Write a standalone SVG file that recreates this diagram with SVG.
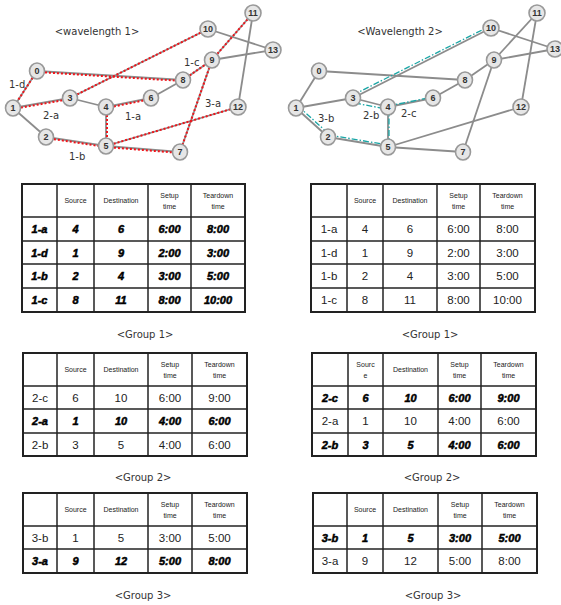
<svg xmlns="http://www.w3.org/2000/svg" width="561" height="605" viewBox="0 0 561 605">
<style>
.e{stroke:#8c8c8c;stroke-width:1.8;fill:none}
.r{stroke:#f0141a;stroke-width:2;stroke-dasharray:2 2;fill:none}
.t{stroke:#1aa6a6;stroke-width:1.3;stroke-dasharray:6 2 1.5 2;fill:none}
.n ellipse{fill:#e6e6e6;stroke:#999;stroke-width:1.6}
.n text{font-family:"Liberation Sans",Arial,sans-serif;font-size:9px;font-weight:bold;fill:#333;text-anchor:middle}
.lb{font-family:"DejaVu Sans","Liberation Sans",sans-serif;font-size:10px;fill:#333}
.cap{font-family:"DejaVu Sans","Liberation Sans",sans-serif;font-size:10px;fill:#333;text-anchor:middle}
.tb rect{fill:#fff;stroke:#222;stroke-width:2}
.tb line{stroke:#222;stroke-width:1.5}
.h{font-family:"Liberation Sans",Arial,sans-serif;font-size:7px;fill:#222;text-anchor:middle}
.d{font-family:"Liberation Sans",Arial,sans-serif;font-size:11.5px;fill:#222;text-anchor:middle}
.b{font-family:"Liberation Sans",Arial,sans-serif;font-size:11px;font-weight:bold;font-style:italic;fill:#000;stroke:#000;stroke-width:0.5;text-anchor:middle}
</style>
<rect width="561" height="605" fill="#fff"/>

<!-- LEFT GRAPH -->
<g id="edges-w1">
<line class="e" x1="37" y1="71" x2="13" y2="108"/>
<line class="e" x1="37" y1="71" x2="183" y2="80"/>
<line class="e" x1="13" y1="108" x2="70" y2="98"/>
<line class="e" x1="13" y1="108" x2="46" y2="137"/>
<line class="e" x1="46" y1="137" x2="106" y2="146"/>
<line class="e" x1="70" y1="98" x2="106" y2="107"/>
<line class="e" x1="70" y1="98" x2="208" y2="29"/>
<line class="e" x1="106" y1="107" x2="151" y2="98"/>
<line class="e" x1="106" y1="107" x2="106" y2="146"/>
<line class="e" x1="151" y1="98" x2="183" y2="80"/>
<line class="e" x1="183" y1="80" x2="212" y2="60"/>
<line class="e" x1="212" y1="60" x2="253" y2="13"/>
<line class="e" x1="212" y1="60" x2="273" y2="50"/>
<line class="e" x1="212" y1="60" x2="180" y2="152"/>
<line class="e" x1="208" y1="29" x2="273" y2="50"/>
<line class="e" x1="253" y1="13" x2="238" y2="107"/>
<line class="e" x1="106" y1="146" x2="180" y2="152"/>
<line class="e" x1="106" y1="146" x2="238" y2="107"/>
<line class="r" x1="37" y1="71" x2="13" y2="108"/>
<line class="r" x1="37" y1="72" x2="183" y2="81"/>
<line class="r" x1="13" y1="109" x2="70" y2="99"/>
<line class="r" x1="46" y1="138" x2="106" y2="147"/>
<line class="r" x1="70" y1="98" x2="208" y2="29"/>
<line class="r" x1="106" y1="108" x2="151" y2="99"/>
<line class="r" x1="107" y1="107" x2="107" y2="146"/>
<line class="r" x1="183" y1="80" x2="212" y2="60"/>
<line class="r" x1="212" y1="60" x2="253" y2="13"/>
<line class="r" x1="212" y1="60" x2="180" y2="152"/>
<line class="r" x1="106" y1="147" x2="180" y2="153"/>
<line class="r" x1="106" y1="146" x2="238" y2="107"/>
</g>
<g id="nodes-w1" class="n">
<g id="w1-n0"><ellipse cx="37" cy="71" rx="7.5" ry="8"/><text x="37" y="74">0</text></g>
<g id="w1-n1"><ellipse cx="13" cy="108" rx="7.5" ry="8"/><text x="13" y="111">1</text></g>
<g id="w1-n2"><ellipse cx="46" cy="137" rx="7.5" ry="8"/><text x="46" y="140">2</text></g>
<g id="w1-n3"><ellipse cx="70" cy="98" rx="7.5" ry="8"/><text x="70" y="101">3</text></g>
<g id="w1-n4"><ellipse cx="106" cy="107" rx="7.5" ry="8"/><text x="106" y="110">4</text></g>
<g id="w1-n5"><ellipse cx="106" cy="146" rx="7.5" ry="8"/><text x="106" y="149">5</text></g>
<g id="w1-n6"><ellipse cx="151" cy="98" rx="7.5" ry="8"/><text x="151" y="101">6</text></g>
<g id="w1-n7"><ellipse cx="180" cy="152" rx="7.5" ry="8"/><text x="180" y="155">7</text></g>
<g id="w1-n8"><ellipse cx="183" cy="80" rx="7.5" ry="8"/><text x="183" y="83">8</text></g>
<g id="w1-n9"><ellipse cx="212" cy="60" rx="7.5" ry="8"/><text x="212" y="63">9</text></g>
<g id="w1-n10"><ellipse cx="208" cy="29" rx="8" ry="8"/><text x="208" y="32">10</text></g>
<g id="w1-n11"><ellipse cx="253" cy="13" rx="8" ry="8"/><text x="253" y="16">11</text></g>
<g id="w1-n12"><ellipse cx="238" cy="107" rx="8" ry="8"/><text x="238" y="110">12</text></g>
<g id="w1-n13"><ellipse cx="273" cy="50" rx="8" ry="8"/><text x="273" y="53">13</text></g>
</g>
<g id="labels-w1">
<text class="cap" x="97" y="35">&lt;wavelength 1&gt;</text>
<text class="lb" x="9" y="88">1-d</text>
<text class="lb" x="43" y="119">2-a</text>
<text class="lb" x="125" y="120">1-a</text>
<text class="lb" x="69" y="160">1-b</text>
<text class="lb" x="184" y="66">1-c</text>
<text class="lb" x="205" y="107">3-a</text>
</g>

<!-- RIGHT GRAPH -->
<g id="edges-w2">
<line class="e" x1="319" y1="71" x2="296" y2="108"/>
<line class="e" x1="319" y1="71" x2="465" y2="80"/>
<line class="e" x1="296" y1="108" x2="353" y2="98"/>
<line class="e" x1="296" y1="108" x2="328" y2="137"/>
<line class="e" x1="328" y1="137" x2="388" y2="147"/>
<line class="e" x1="353" y1="98" x2="388" y2="107"/>
<line class="e" x1="353" y1="98" x2="491" y2="28"/>
<line class="e" x1="388" y1="107" x2="433" y2="98"/>
<line class="e" x1="388" y1="107" x2="388" y2="147"/>
<line class="e" x1="433" y1="98" x2="465" y2="80"/>
<line class="e" x1="465" y1="80" x2="494" y2="60"/>
<line class="e" x1="494" y1="60" x2="537" y2="13"/>
<line class="e" x1="494" y1="60" x2="555" y2="49"/>
<line class="e" x1="494" y1="60" x2="463" y2="152"/>
<line class="e" x1="491" y1="28" x2="555" y2="49"/>
<line class="e" x1="537" y1="13" x2="521" y2="107"/>
<line class="e" x1="388" y1="147" x2="463" y2="152"/>
<line class="e" x1="388" y1="147" x2="521" y2="107"/>
<line class="t" x1="353" y1="95" x2="490" y2="26"/>
<line class="t" x1="355" y1="103" x2="386" y2="109"/>
<line class="t" x1="388" y1="106" x2="433" y2="97"/>
<line class="t" x1="389" y1="107" x2="389" y2="147"/>
<line class="t" x1="298" y1="106" x2="330" y2="135"/>
<line class="t" x1="329" y1="135" x2="388" y2="145"/>
</g>
<g id="nodes-w2" class="n">
<g id="w2-n0"><ellipse cx="319" cy="71" rx="7.5" ry="8"/><text x="319" y="74">0</text></g>
<g id="w2-n1"><ellipse cx="296" cy="108" rx="7.5" ry="8"/><text x="296" y="111">1</text></g>
<g id="w2-n2"><ellipse cx="328" cy="137" rx="7.5" ry="8"/><text x="328" y="140">2</text></g>
<g id="w2-n3"><ellipse cx="353" cy="98" rx="7.5" ry="8"/><text x="353" y="101">3</text></g>
<g id="w2-n4"><ellipse cx="388" cy="107" rx="7.5" ry="8"/><text x="388" y="110">4</text></g>
<g id="w2-n5"><ellipse cx="388" cy="147" rx="7.5" ry="8"/><text x="388" y="150">5</text></g>
<g id="w2-n6"><ellipse cx="433" cy="98" rx="7.5" ry="8"/><text x="433" y="101">6</text></g>
<g id="w2-n7"><ellipse cx="463" cy="152" rx="7.5" ry="8"/><text x="463" y="155">7</text></g>
<g id="w2-n8"><ellipse cx="465" cy="80" rx="7.5" ry="8"/><text x="465" y="83">8</text></g>
<g id="w2-n9"><ellipse cx="494" cy="60" rx="7.5" ry="8"/><text x="494" y="63">9</text></g>
<g id="w2-n10"><ellipse cx="491" cy="28" rx="8" ry="8"/><text x="491" y="31">10</text></g>
<g id="w2-n11"><ellipse cx="537" cy="13" rx="8" ry="8"/><text x="537" y="16">11</text></g>
<g id="w2-n12"><ellipse cx="521" cy="107" rx="8" ry="8"/><text x="521" y="110">12</text></g>
<g id="w2-n13"><ellipse cx="555" cy="49" rx="8" ry="8"/><text x="555" y="52">13</text></g>
</g>
<g id="labels-w2">
<text class="cap" x="400" y="35">&lt;Wavelength 2&gt;</text>
<text class="lb" x="318" y="122">3-b</text>
<text class="lb" x="363" y="119">2-b</text>
<text class="lb" x="401" y="117">2-c</text>
</g>

<!-- LEFT TABLE 1 -->
<g id="tableL1" class="tb">
<rect x="22" y="184" width="223" height="128"/>
<line x1="57" y1="184" x2="57" y2="312"/><line x1="94" y1="184" x2="94" y2="312"/><line x1="148" y1="184" x2="148" y2="312"/><line x1="191" y1="184" x2="191" y2="312"/>
<line x1="22" y1="217" x2="245" y2="217"/><line x1="22" y1="241" x2="245" y2="241"/><line x1="22" y1="264" x2="245" y2="264"/><line x1="22" y1="288" x2="245" y2="288"/>
<text class="h" x="75.5" y="203">Source</text><text class="h" x="121" y="203">Destination</text>
<text class="h" x="169.5" y="198">Setup</text><text class="h" x="169.5" y="209">time</text>
<text class="h" x="218" y="198">Teardown</text><text class="h" x="218" y="209">time</text>
<text class="b" x="39.5" y="233">1-a</text><text class="b" x="75.5" y="233">4</text><text class="b" x="121" y="233">6</text><text class="b" x="169.5" y="233">6:00</text><text class="b" x="218" y="233">8:00</text>
<text class="b" x="39.5" y="257">1-d</text><text class="b" x="75.5" y="257">1</text><text class="b" x="121" y="257">9</text><text class="b" x="169.5" y="257">2:00</text><text class="b" x="218" y="257">3:00</text>
<text class="b" x="39.5" y="280">1-b</text><text class="b" x="75.5" y="280">2</text><text class="b" x="121" y="280">4</text><text class="b" x="169.5" y="280">3:00</text><text class="b" x="218" y="280">5:00</text>
<text class="b" x="39.5" y="304">1-c</text><text class="b" x="75.5" y="304">8</text><text class="b" x="121" y="304">11</text><text class="b" x="169.5" y="304">8:00</text><text class="b" x="218" y="304">10:00</text>
</g>
<text class="cap" x="145" y="338">&lt;Group 1&gt;</text>

<!-- RIGHT TABLE 1 -->
<g id="tableR1" class="tb">
<rect x="311" y="184" width="224" height="128"/>
<line x1="347" y1="184" x2="347" y2="312"/><line x1="383" y1="184" x2="383" y2="312"/><line x1="437" y1="184" x2="437" y2="312"/><line x1="480" y1="184" x2="480" y2="312"/>
<line x1="311" y1="217" x2="535" y2="217"/><line x1="311" y1="241" x2="535" y2="241"/><line x1="311" y1="264" x2="535" y2="264"/><line x1="311" y1="288" x2="535" y2="288"/>
<text class="h" x="365" y="203">Source</text><text class="h" x="410" y="203">Destination</text>
<text class="h" x="458.5" y="198">Setup</text><text class="h" x="458.5" y="209">time</text>
<text class="h" x="507.5" y="198">Teardown</text><text class="h" x="507.5" y="209">time</text>
<text class="d" x="329" y="233">1-a</text><text class="d" x="365" y="233">4</text><text class="d" x="410" y="233">6</text><text class="d" x="458.5" y="233">6:00</text><text class="d" x="507.5" y="233">8:00</text>
<text class="d" x="329" y="257">1-d</text><text class="d" x="365" y="257">1</text><text class="d" x="410" y="257">9</text><text class="d" x="458.5" y="257">2:00</text><text class="d" x="507.5" y="257">3:00</text>
<text class="d" x="329" y="280">1-b</text><text class="d" x="365" y="280">2</text><text class="d" x="410" y="280">4</text><text class="d" x="458.5" y="280">3:00</text><text class="d" x="507.5" y="280">5:00</text>
<text class="d" x="329" y="304">1-c</text><text class="d" x="365" y="304">8</text><text class="d" x="410" y="304">11</text><text class="d" x="458.5" y="304">8:00</text><text class="d" x="507.5" y="304">10:00</text>
</g>
<text class="cap" x="430" y="338">&lt;Group 1&gt;</text>

<!-- LEFT TABLE 2 -->
<g id="tableL2" class="tb">
<rect x="23" y="353" width="224" height="103"/>
<line x1="57" y1="353" x2="57" y2="456"/><line x1="94" y1="353" x2="94" y2="456"/><line x1="148" y1="353" x2="148" y2="456"/><line x1="192" y1="353" x2="192" y2="456"/>
<line x1="23" y1="386" x2="247" y2="386"/><line x1="23" y1="409" x2="247" y2="409"/><line x1="23" y1="433" x2="247" y2="433"/>
<text class="h" x="75.5" y="372">Source</text><text class="h" x="121" y="372">Destination</text>
<text class="h" x="170" y="367">Setup</text><text class="h" x="170" y="378">time</text>
<text class="h" x="219.5" y="367">Teardown</text><text class="h" x="219.5" y="378">time</text>
<text class="d" x="40" y="402">2-c</text><text class="d" x="75.5" y="402">6</text><text class="d" x="121" y="402">10</text><text class="d" x="170" y="402">6:00</text><text class="d" x="219.5" y="402">9:00</text>
<text class="b" x="40" y="425">2-a</text><text class="b" x="75.5" y="425">1</text><text class="b" x="121" y="425">10</text><text class="b" x="170" y="425">4:00</text><text class="b" x="219.5" y="425">6:00</text>
<text class="d" x="40" y="449">2-b</text><text class="d" x="75.5" y="449">3</text><text class="d" x="121" y="449">5</text><text class="d" x="170" y="449">4:00</text><text class="d" x="219.5" y="449">6:00</text>
</g>
<text class="cap" x="143" y="481">&lt;Group 2&gt;</text>

<!-- RIGHT TABLE 2 -->
<g id="tableR2" class="tb">
<rect x="312" y="353" width="224" height="103"/>
<line x1="348" y1="353" x2="348" y2="456"/><line x1="383" y1="353" x2="383" y2="456"/><line x1="438" y1="353" x2="438" y2="456"/><line x1="481" y1="353" x2="481" y2="456"/>
<line x1="312" y1="386" x2="536" y2="386"/><line x1="312" y1="409" x2="536" y2="409"/><line x1="312" y1="433" x2="536" y2="433"/>
<text class="h" x="365.5" y="367">Sourc</text><text class="h" x="365.5" y="378">e</text><text class="h" x="410.5" y="372">Destination</text>
<text class="h" x="459.5" y="367">Setup</text><text class="h" x="459.5" y="378">time</text>
<text class="h" x="508.5" y="367">Teardown</text><text class="h" x="508.5" y="378">time</text>
<text class="b" x="330" y="402">2-c</text><text class="b" x="365.5" y="402">6</text><text class="b" x="410.5" y="402">10</text><text class="b" x="459.5" y="402">6:00</text><text class="b" x="508.5" y="402">9:00</text>
<text class="d" x="330" y="425">2-a</text><text class="d" x="365.5" y="425">1</text><text class="d" x="410.5" y="425">10</text><text class="d" x="459.5" y="425">4:00</text><text class="d" x="508.5" y="425">6:00</text>
<text class="b" x="330" y="449">2-b</text><text class="b" x="365.5" y="449">3</text><text class="b" x="410.5" y="449">5</text><text class="b" x="459.5" y="449">4:00</text><text class="b" x="508.5" y="449">6:00</text>
</g>
<text class="cap" x="432" y="481">&lt;Group 2&gt;</text>

<!-- LEFT TABLE 3 -->
<g id="tableL3" class="tb">
<rect x="23" y="493" width="224" height="80"/>
<line x1="57" y1="493" x2="57" y2="573"/><line x1="94" y1="493" x2="94" y2="573"/><line x1="148" y1="493" x2="148" y2="573"/><line x1="192" y1="493" x2="192" y2="573"/>
<line x1="23" y1="526" x2="247" y2="526"/><line x1="23" y1="549" x2="247" y2="549"/>
<text class="h" x="75.5" y="512">Source</text><text class="h" x="121" y="512">Destination</text>
<text class="h" x="170" y="507">Setup</text><text class="h" x="170" y="518">time</text>
<text class="h" x="219.5" y="507">Teardown</text><text class="h" x="219.5" y="518">time</text>
<text class="d" x="40" y="542">3-b</text><text class="d" x="75.5" y="542">1</text><text class="d" x="121" y="542">5</text><text class="d" x="170" y="542">3:00</text><text class="d" x="219.5" y="542">5:00</text>
<text class="b" x="40" y="565">3-a</text><text class="b" x="75.5" y="565">9</text><text class="b" x="121" y="565">12</text><text class="b" x="170" y="565">5:00</text><text class="b" x="219.5" y="565">8:00</text>
</g>
<text class="cap" x="143" y="599">&lt;Group 3&gt;</text>

<!-- RIGHT TABLE 3 -->
<g id="tableR3" class="tb">
<rect x="313" y="493" width="224" height="80"/>
<line x1="347" y1="493" x2="347" y2="573"/><line x1="383" y1="493" x2="383" y2="573"/><line x1="438" y1="493" x2="438" y2="573"/><line x1="482" y1="493" x2="482" y2="573"/>
<line x1="313" y1="526" x2="537" y2="526"/><line x1="313" y1="549" x2="537" y2="549"/>
<text class="h" x="365" y="512">Source</text><text class="h" x="410.5" y="512">Destination</text>
<text class="h" x="460" y="507">Setup</text><text class="h" x="460" y="518">time</text>
<text class="h" x="509.5" y="507">Teardown</text><text class="h" x="509.5" y="518">time</text>
<text class="b" x="330" y="542">3-b</text><text class="b" x="365" y="542">1</text><text class="b" x="410.5" y="542">5</text><text class="b" x="460" y="542">3:00</text><text class="b" x="509.5" y="542">5:00</text>
<text class="d" x="330" y="565">3-a</text><text class="d" x="365" y="565">9</text><text class="d" x="410.5" y="565">12</text><text class="d" x="460" y="565">5:00</text><text class="d" x="509.5" y="565">8:00</text>
</g>
<text class="cap" x="433" y="599">&lt;Group 3&gt;</text>
</svg>
